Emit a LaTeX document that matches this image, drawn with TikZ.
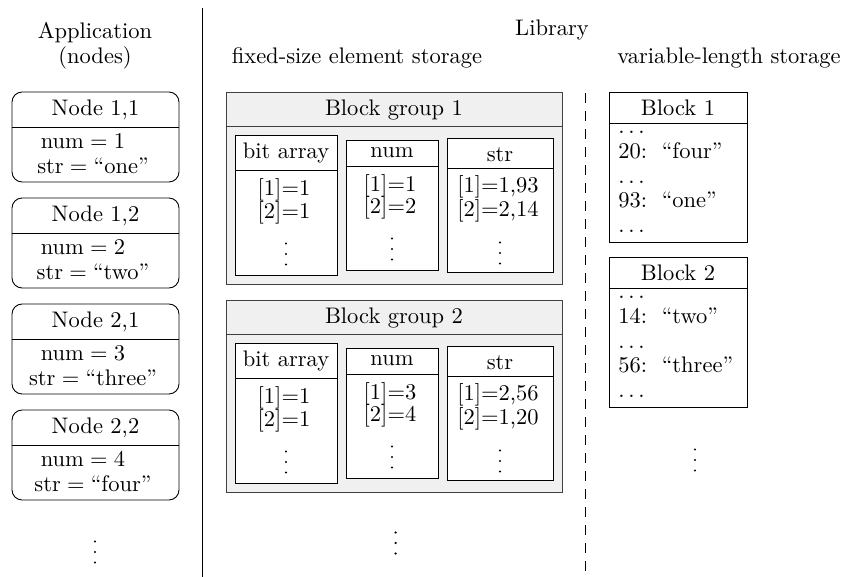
\documentclass[tikz,border=0pt]{standalone}
\newcommand\hdotsx{.\kern1.67pt.\kern1.67pt.}
\begin{document}
\begin{tikzpicture}[x=0.4444pt,y=-0.4444pt,
  lbl/.style={inner sep=0pt, anchor=base},
  lbll/.style={inner sep=0pt, anchor=base west},
  dotmark/.style={fill=black, draw=none},
  nodebox/.style={draw, line width=0.4pt, rounded corners=4.5pt},
  grpbox/.style={draw=black!75, fill=black!6, line width=0.4pt},
  grpline/.style={draw=black!75, line width=0.4pt},
  colbox/.style={draw, fill=white, line width=0.4pt},
  divline/.style={line width=0.4pt},
  sepline/.style={line width=0.4pt},
  dashsep/.style={line width=0.4pt, dash pattern=on 4.5pt off 3.5pt},
  vdotsat/.pic={\fill[dotmark] (0,-10.5) circle (0.55pt) (0,0) circle (0.55pt) (0,10.5) circle (0.55pt);}]
\useasboundingbox (0,0) rectangle (843,577);

% headings
\node[lbl] (happ) at (95,38) {Application};
\node[lbl] (hnodes) at (95,63) {(nodes)};
\node[lbl] (hlib) at (552,35) {Library};
\node[lbl] (hfix) at (357,63) {fixed-size element storage};
\node[lbl] (hvar) at (729,63) {variable-length storage};

% separators
\coordinate (stop) at (202,8);
\coordinate (sbot) at (202,577);
\coordinate (dtop) at (585.5,93);
\coordinate (dbot) at (585.5,577);
\draw[sepline] (stop) -- (sbot);
\draw[dashsep] (dtop) -- (dbot);

% application nodes
\foreach \t/\a/\n/\s in {92/{1,1}/1/one, 198/{1,2}/2/two, 304/{2,1}/3/three, 410/{2,2}/4/four}{
  \draw[nodebox] (12,\t) rectangle (179,\t+90);
  \draw[divline] (12,\t+35) -- (179,\t+35);
  \node[lbl] (nt\n) at (95.5,\t+23) {Node \a};
  \node[lbl] (nn\n) at (83,\t+56.5) {$\mathrm{num} = \n$};
  \node[lbl] (ns\n) at (93,\t+81) {$\mathrm{str} = \mbox{``\s''}$};
}
\pic at (95,552) {vdotsat};

% block groups
\foreach \o/\g/\ba/\bb/\na/\nb/\sa/\sb in {0/1/1/1/1/2/{1,93}/{2,14}, 208/2/1/1/3/4/{2,56}/{1,20}}{
  \draw[grpbox] (226,92+\o) rectangle (562,284+\o);
  \draw[grpline] (226,126+\o) -- (562,126+\o);
  \node[lbl] (bg\g) at (394,115.5+\o) {Block group \g};
  % bit array
  \draw[colbox] (235,135+\o) rectangle (337,275+\o);
  \draw[divline] (235,170+\o) -- (337,170+\o);
  \node[lbl] (bt\g) at (286,158+\o) {bit array};
  \node[lbl] (bta\g) at (284,195+\o) {[1]=\ba};
  \node[lbl] (btb\g) at (284,218.5+\o) {[2]=\bb};
  \pic at (286,254+\o) {vdotsat};
  % num
  \draw[colbox] (346,140+\o) rectangle (438,270+\o);
  \draw[divline] (346,166+\o) -- (438,166+\o);
  \node[lbl] (nm\g) at (392,157.5+\o) {num};
  \node[lbl] (nma\g) at (390,191+\o) {[1]=\na};
  \node[lbl] (nmb\g) at (390,213.5+\o) {[2]=\nb};
  \pic at (392,249+\o) {vdotsat};
  % str
  \draw[colbox] (447,138+\o) rectangle (553,272+\o);
  \draw[divline] (447,168+\o) -- (553,168+\o);
  \node[lbl] (st\g) at (500,161+\o) {str};
  \node[lbl] (sta\g) at (498,192.5+\o) {[1]=\sa};
  \node[lbl] (stb\g) at (498,216+\o) {[2]=\sb};
  \pic at (500,253+\o) {vdotsat};
}
\pic at (395.7,543) {vdotsat};

% variable-length blocks
\foreach \o/\b/\ka/\va/\kb/\vb in {0/1/20/four/93/one, 165/2/14/two/56/three}{
  \draw[colbox] (609,92+\o) rectangle (747,242+\o);
  \draw[divline] (609,123+\o) -- (747,123+\o);
  \node[lbl] (bk\b) at (678,115+\o) {Block \b};
  \node[lbll] (bkd\b a) at (618,133+\o) {\hdotsx};
  \node[lbll] (bkl\b a) at (618,158+\o) {\ka:\hspace{6.5pt}``\va''};
  \node[lbll] (bkd\b b) at (618,183+\o) {\hdotsx};
  \node[lbll] (bkl\b b) at (618,207.5+\o) {\kb:\hspace{6.5pt}``\vb''};
  \node[lbll] (bkd\b c) at (618,232+\o) {\hdotsx};
}
\pic at (695,460) {vdotsat};
\end{tikzpicture}
\end{document}
